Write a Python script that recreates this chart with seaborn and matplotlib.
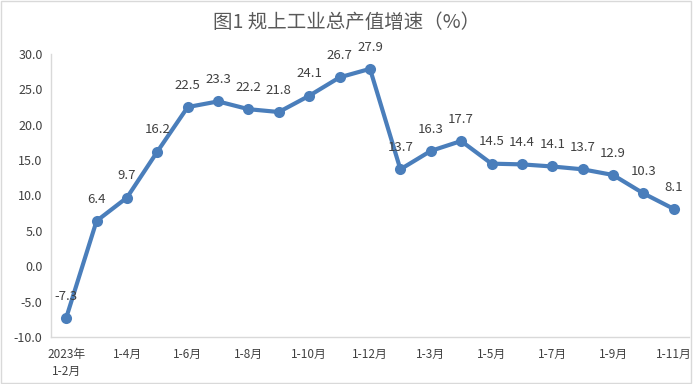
import numpy as np
import pandas as pd
import matplotlib.pyplot as plt
import seaborn as sns
from matplotlib.patches import Rectangle

# 规上工业总产值增速 data
periods = ["2023年\n1-2月", "1-3月", "1-4月", "1-5月", "1-6月", "1-7月", "1-8月",
           "1-9月", "1-10月", "1-11月", "1-12月",
           "1-2月", "1-3月", "1-4月", "1-5月", "1-6月", "1-7月", "1-8月",
           "1-9月", "1-10月", "1-11月"]
growth = [-7.3, 6.4, 9.7, 16.2, 22.5, 23.3, 22.2, 21.8, 24.1, 26.7, 27.9,
          13.7, 16.3, 17.7, 14.5, 14.4, 14.1, 13.7, 12.9, 10.3, 8.1]
y_ticks = [-10, -5, 0, 5, 10, 15, 20, 25, 30]

df = pd.DataFrame({"pos": np.arange(len(growth)), "growth": growth})

sns.set_theme(style="white")
plt.rcParams['font.family'] = ['Noto Sans CJK SC', 'DejaVu Sans']

fig = plt.figure(figsize=(6.93, 3.84), dpi=100)
ax = fig.add_axes([51 / 693, 1 - 337 / 384, 638 / 693, 283 / 384])

sns.lineplot(data=df, x="pos", y="growth", ax=ax, color="#4A7EBB",
             linewidth=3, marker="o", markersize=8, markeredgewidth=0)

for x, v in zip(df["pos"], df["growth"]):
    ax.annotate(f"{v:.1f}", (x, v), xytext=(0, 11), textcoords="offset points",
                ha="center", va="bottom", fontsize=9.5, color="#404040")

ax.set_xlim(-0.5, len(growth) - 0.5)
ax.set_ylim(-10, 30)
ax.set_yticks(y_ticks)
ax.set_yticklabels([f"{t:.1f}" for t in y_ticks], fontsize=9, color="#404040")
ax.set_xticks(df["pos"][::2])
ax.set_xticklabels(periods[::2], fontsize=8.5, color="#404040", linespacing=1.4)
ax.tick_params(axis="both", length=0, pad=6)
ax.tick_params(axis="x", pad=8)
ax.set_xlabel("")
ax.set_ylabel("")

for side in ["top", "right"]:
    ax.spines[side].set_visible(False)
for side in ["left", "bottom"]:
    ax.spines[side].set_color("#D9D9D9")
    ax.spines[side].set_linewidth(1)

fig.text(0.5, 1 - 22 / 384, "图1 规上工业总产值增速（%）", ha="center", va="center",
         fontsize=14, color="#595959")

fig.patches.append(Rectangle((0.002, 0.003), 0.995, 0.994, transform=fig.transFigure,
                             fill=False, edgecolor="#D9D9D9", linewidth=1))

fig.savefig("out.png", dpi=100)
